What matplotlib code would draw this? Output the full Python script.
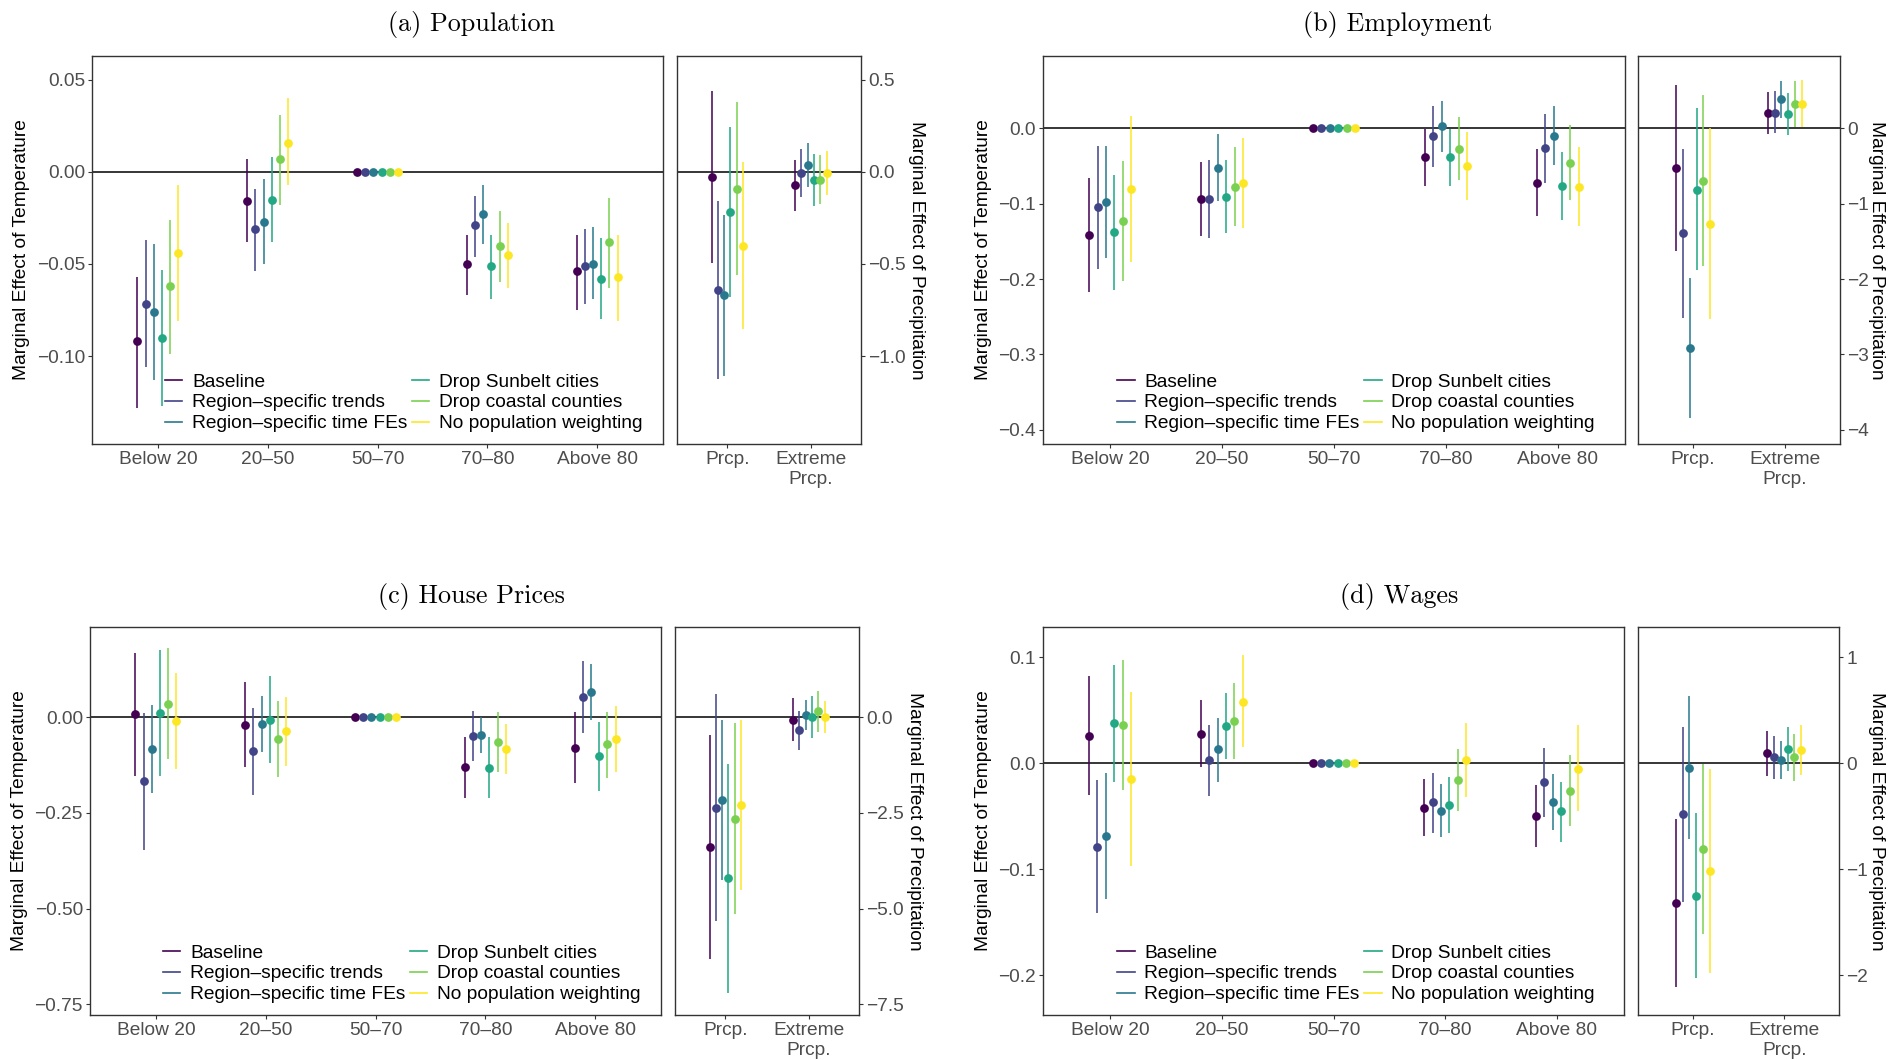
import matplotlib

matplotlib.use("Agg")
import matplotlib.pyplot as plt
import numpy as np
from matplotlib.lines import Line2D

W, H = 1889, 1060

SERIES = [
    "Baseline",
    "Region–specific trends",
    "Region–specific time FEs",
    "Drop Sunbelt cities",
    "Drop coastal counties",
    "No population weighting",
]
COLORS = ["#440154", "#414487", "#2A788E", "#22A884", "#7AD151", "#FDE725"]
TEMP_BINS = ["Below 20", "20–50", "50–70", "70–80", "Above 80"]
PRCP_BINS = ["Prcp.", "Extreme\nPrcp."]

# rows = temperature / precipitation bins, columns = SERIES
pop_temp_est = [
    [-0.092, -0.072, -0.076, -0.090, -0.062, -0.044],
    [-0.016, -0.031, -0.027, -0.015, 0.007, 0.016],
    [0.0, 0.0, 0.0, 0.0, 0.0, 0.0],
    [-0.050, -0.029, -0.023, -0.051, -0.040, -0.045],
    [-0.054, -0.051, -0.050, -0.058, -0.038, -0.057],
]
pop_temp_hi = [
    [-0.057, -0.037, -0.039, -0.053, -0.026, -0.007],
    [0.007, -0.009, -0.004, 0.008, 0.031, 0.040],
    [0.0, 0.0, 0.0, 0.0, 0.0, 0.0],
    [-0.034, -0.013, -0.007, -0.034, -0.021, -0.028],
    [-0.034, -0.031, -0.030, -0.036, -0.014, -0.034],
]
pop_temp_lo = [
    [-0.128, -0.106, -0.113, -0.127, -0.099, -0.081],
    [-0.038, -0.054, -0.050, -0.038, -0.018, -0.007],
    [0.0, 0.0, 0.0, 0.0, 0.0, 0.0],
    [-0.067, -0.046, -0.039, -0.069, -0.060, -0.063],
    [-0.075, -0.072, -0.069, -0.080, -0.063, -0.081],
]
pop_prcp_est = [
    [-0.029, -0.640, -0.670, -0.216, -0.091, -0.402],
    [-0.072, -0.004, 0.038, -0.045, -0.043, -0.007],
]
pop_prcp_hi = [
    [0.440, -0.156, -0.234, 0.246, 0.379, 0.053],
    [0.065, 0.127, 0.156, 0.096, 0.092, 0.112],
]
pop_prcp_lo = [
    [-0.496, -1.125, -1.107, -0.678, -0.560, -0.853],
    [-0.210, -0.134, -0.083, -0.183, -0.176, -0.125],
]

emp_temp_est = [
    [-0.141, -0.105, -0.098, -0.138, -0.123, -0.080],
    [-0.094, -0.094, -0.052, -0.091, -0.078, -0.073],
    [0.0, 0.0, 0.0, 0.0, 0.0, 0.0],
    [-0.038, -0.010, 0.003, -0.038, -0.027, -0.050],
    [-0.072, -0.026, -0.010, -0.076, -0.046, -0.078],
]
emp_temp_hi = [
    [-0.066, -0.023, -0.023, -0.062, -0.043, 0.017],
    [-0.045, -0.042, -0.008, -0.042, -0.025, -0.013],
    [0.0, 0.0, 0.0, 0.0, 0.0, 0.0],
    [-0.001, 0.030, 0.036, -0.001, 0.015, -0.005],
    [-0.027, 0.019, 0.029, -0.032, 0.004, -0.025],
]
emp_temp_lo = [
    [-0.217, -0.187, -0.172, -0.214, -0.203, -0.177],
    [-0.143, -0.145, -0.096, -0.139, -0.130, -0.132],
    [0.0, 0.0, 0.0, 0.0, 0.0, 0.0],
    [-0.076, -0.051, -0.031, -0.076, -0.069, -0.095],
    [-0.117, -0.072, -0.049, -0.122, -0.095, -0.130],
]
emp_prcp_est = [
    [-0.530, -1.392, -2.916, -0.813, -0.698, -1.264],
    [0.199, 0.208, 0.384, 0.190, 0.327, 0.318],
]
emp_prcp_hi = [
    [0.570, -0.274, -1.984, 0.270, 0.437, 0.000],
    [0.482, 0.491, 0.627, 0.464, 0.632, 0.636],
]
emp_prcp_lo = [
    [-1.622, -2.519, -3.840, -1.887, -1.834, -2.536],
    [-0.080, -0.066, 0.141, -0.084, 0.022, 0.013],
]

hp_temp_est = [
    [0.008, -0.167, -0.083, 0.011, 0.035, -0.010],
    [-0.019, -0.089, -0.018, -0.007, -0.057, -0.037],
    [0.0, 0.0, 0.0, 0.0, 0.0, 0.0],
    [-0.131, -0.049, -0.046, -0.132, -0.064, -0.084],
    [-0.080, 0.052, 0.067, -0.102, -0.071, -0.057],
]
hp_temp_hi = [
    [0.168, 0.012, 0.032, 0.175, 0.180, 0.117],
    [0.092, 0.024, 0.055, 0.108, 0.042, 0.053],
    [0.0, 0.0, 0.0, 0.0, 0.0, 0.0],
    [-0.051, 0.017, 0.000, -0.052, 0.015, -0.017],
    [0.013, 0.146, 0.140, -0.011, 0.014, 0.030],
]
hp_temp_lo = [
    [-0.153, -0.347, -0.199, -0.153, -0.110, -0.136],
    [-0.131, -0.202, -0.091, -0.120, -0.155, -0.127],
    [0.0, 0.0, 0.0, 0.0, 0.0, 0.0],
    [-0.211, -0.115, -0.094, -0.211, -0.143, -0.149],
    [-0.172, -0.042, -0.006, -0.192, -0.158, -0.144],
]
hp_prcp_est = [
    [-3.394, -2.370, -2.161, -4.210, -2.647, -2.292],
    [-0.061, -0.339, 0.069, 0.009, 0.156, 0.017],
]
hp_prcp_hi = [
    [-0.451, 0.599, -0.078, -1.215, -0.156, -0.061],
    [0.495, 0.174, 0.443, 0.556, 0.694, 0.425],
]
hp_prcp_lo = [
    [-6.328, -5.330, -4.245, -7.196, -5.139, -4.522],
    [-0.616, -0.851, -0.321, -0.547, -0.391, -0.408],
]

wage_temp_est = [
    [0.026, -0.079, -0.069, 0.038, 0.036, -0.015],
    [0.028, 0.003, 0.013, 0.035, 0.040, 0.058],
    [0.0, 0.0, 0.0, 0.0, 0.0, 0.0],
    [-0.042, -0.037, -0.045, -0.039, -0.016, 0.003],
    [-0.050, -0.018, -0.037, -0.045, -0.026, -0.005],
]
wage_temp_hi = [
    [0.082, -0.016, -0.009, 0.093, 0.097, 0.067],
    [0.060, 0.036, 0.043, 0.066, 0.076, 0.102],
    [0.0, 0.0, 0.0, 0.0, 0.0, 0.0],
    [-0.015, -0.009, -0.020, -0.013, 0.013, 0.038],
    [-0.021, 0.014, -0.010, -0.018, 0.008, 0.036],
]
wage_temp_lo = [
    [-0.030, -0.141, -0.128, -0.018, -0.025, -0.097],
    [-0.004, -0.031, -0.018, 0.004, 0.004, 0.015],
    [0.0, 0.0, 0.0, 0.0, 0.0, 0.0],
    [-0.069, -0.066, -0.070, -0.066, -0.045, -0.032],
    [-0.079, -0.051, -0.063, -0.074, -0.059, -0.045],
]
wage_prcp_est = [
    [-1.321, -0.484, -0.044, -1.252, -0.811, -1.019],
    [0.094, 0.057, 0.035, 0.135, 0.057, 0.123],
]
wage_prcp_hi = [
    [-0.528, 0.340, 0.638, -0.472, -0.006, -0.053],
    [0.305, 0.255, 0.214, 0.343, 0.274, 0.358],
]
wage_prcp_lo = [
    [-2.113, -1.308, -0.720, -2.031, -1.616, -1.984],
    [-0.119, -0.151, -0.151, -0.072, -0.164, -0.113],
]

# y ticks: (values, decimals) for the temperature and precipitation axes
pop_ticks = ([0.05, 0.0, -0.05, -0.10], 2, [0.5, 0.0, -0.5, -1.0], 1)
emp_ticks = ([0.0, -0.1, -0.2, -0.3, -0.4], 1, [0, -1, -2, -3, -4], 0)
hp_ticks = ([0.0, -0.25, -0.50, -0.75], 2, [0.0, -2.5, -5.0, -7.5], 1)
wage_ticks = ([0.1, 0.0, -0.1, -0.2], 1, [1, 0, -1, -2], 0)

DODGE = 0.075
TICK_COL = "#4D4D4D"
FRAME_COL = "#333333"
SANS = ["Liberation Sans", "DejaVu Sans"]


def px_rect(x0, y0, x1, y1):
    return [x0 / W, 1 - y1 / H, (x1 - x0) / W, (y1 - y0) / H]


def fmt(v, d):
    return f"{v:.{d}f}".replace("-", "\u2212")


def style_axes(ax):
    for s in ax.spines.values():
        s.set_color(FRAME_COL)
        s.set_linewidth(1.0)
    ax.tick_params(colors=FRAME_COL, length=2.6, width=0.8, labelcolor=TICK_COL,
                   labelsize=13.8, pad=2.5)
    for lab in ax.get_xticklabels() + ax.get_yticklabels():
        lab.set_fontfamily(SANS)


def draw_ranges(ax, est, lo, hi):
    est, lo, hi = np.array(est), np.array(lo), np.array(hi)
    base = np.arange(1, est.shape[0] + 1)
    ax.axhline(0, color="black", lw=1.1, zorder=1)
    for i, col in enumerate(COLORS):
        x = base + (i - 2.5) * DODGE
        ax.vlines(x, lo[:, i], hi[:, i], color=col, lw=1.3, alpha=0.85, zorder=2)
        ax.plot(x, est[:, i], "o", color=col, ms=6.3, mec="none", zorder=3)


def panel(fig, title, title_xy, left_px, right_px, ylab_x, ylim, ticks, temp, prcp):
    tvals, tdec, pvals, pdec = ticks
    axl = fig.add_axes(px_rect(*left_px))
    draw_ranges(axl, *temp)
    axl.set_xlim(0.4, 5.6)
    axl.set_ylim(*ylim)
    axl.set_xticks(np.arange(1, 6), TEMP_BINS)
    axl.set_yticks(tvals, [fmt(v, tdec) for v in tvals])
    style_axes(axl)

    axr = fig.add_axes(px_rect(*right_px))
    draw_ranges(axr, *prcp)
    axr.set_xlim(0.4, 2.6)
    axr.set_ylim(ylim[0] * 10, ylim[1] * 10)
    axr.set_xticks([1, 2], PRCP_BINS)
    axr.yaxis.tick_right()
    axr.set_yticks(pvals, [fmt(v, pdec) for v in pvals])
    style_axes(axr)

    handles = [Line2D([], [], color=c, lw=1.2) for c in COLORS]
    axl.legend(handles, SERIES, ncol=2, loc="lower left", bbox_to_anchor=(0.128, 0.03),
               frameon=False, borderpad=0, borderaxespad=0, handlelength=0.9,
               handletextpad=0.5, columnspacing=0.25, labelspacing=0.18,
               prop={"family": SANS, "size": 13.8})

    tx, ty = title_xy
    fig.text(tx / W, 1 - ty / H, title, ha="center", va="center",
             fontfamily="cmr10", fontsize=18.8)
    cy = 1 - (left_px[1] + left_px[3]) / 2 / H
    fig.text(ylab_x[0] / W, cy, "Marginal Effect of Temperature", rotation=90,
             ha="center", va="center", fontfamily=SANS, fontsize=13.8)
    fig.text(ylab_x[1] / W, cy, "Marginal Effect of Precipitation", rotation=270,
             ha="center", va="center", fontfamily=SANS, fontsize=13.8)


fig = plt.figure(figsize=(W / 100, H / 100), dpi=100)

panel(fig, "(a) Population", (471, 25), (92, 56, 663, 444), (677, 56, 861, 444), (22, 917),
      (-0.1478, 0.0630), pop_ticks,
      (pop_temp_est, pop_temp_lo, pop_temp_hi), (pop_prcp_est, pop_prcp_lo, pop_prcp_hi))
panel(fig, "(b) Employment", (1398, 25), (1043, 56, 1625, 444), (1638, 56, 1840, 444), (983, 1877),
      (-0.419, 0.096), emp_ticks,
      (emp_temp_est, emp_temp_lo, emp_temp_hi), (emp_prcp_est, emp_prcp_lo, emp_prcp_hi))
panel(fig, "(c) House Prices", (471, 597), (90, 627, 661, 1015), (675, 627, 859, 1015), (20, 915),
      (-0.778, 0.236), hp_ticks,
      (hp_temp_est, hp_temp_lo, hp_temp_hi), (hp_prcp_est, hp_prcp_lo, hp_prcp_hi))
panel(fig, "(d) Wages", (1399, 597), (1043, 627, 1624, 1015), (1638, 627, 1839, 1015), (983, 1877),
      (-0.2377, 0.1286), wage_ticks,
      (wage_temp_est, wage_temp_lo, wage_temp_hi), (wage_prcp_est, wage_prcp_lo, wage_prcp_hi))

fig.savefig("out.png", dpi=100, facecolor="white")
